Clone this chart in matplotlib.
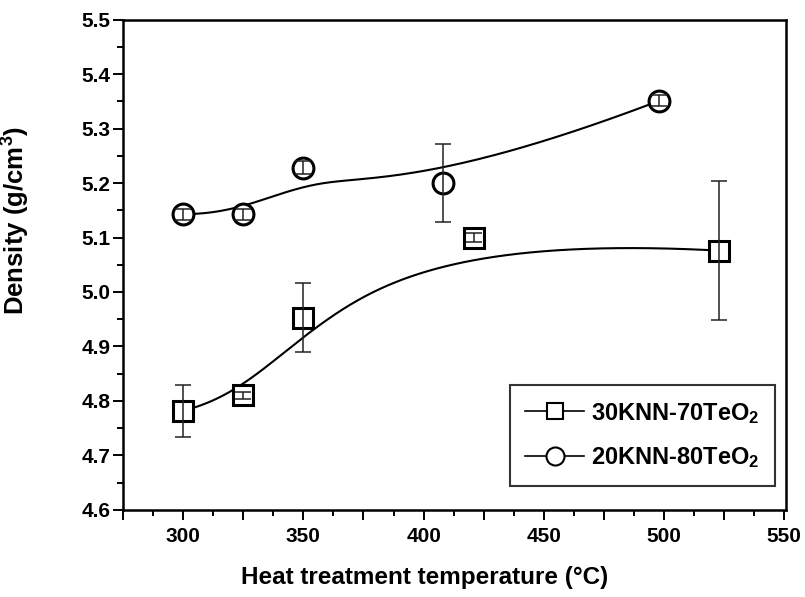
import numpy as np
import matplotlib
matplotlib.use("Agg")
import matplotlib.pyplot as plt
from matplotlib.ticker import MultipleLocator, FuncFormatter

plt.rcParams["font.family"] = ["Liberation Sans", "DejaVu Sans"]
plt.rcParams["font.weight"] = "bold"
plt.rcParams["axes.labelweight"] = "bold"
plt.rcParams["mathtext.fontset"] = "custom"
plt.rcParams["mathtext.rm"] = "Liberation Sans:bold"
plt.rcParams["mathtext.it"] = "Liberation Sans:bold"
plt.rcParams["mathtext.bf"] = "Liberation Sans:bold"
plt.rcParams["mathtext.default"] = "rm"

# 30KNN-70TeO2
temp_a = [300, 325, 350, 421, 523]
dens_a = [4.782, 4.810, 4.953, 5.100, 5.076]
err_a = [0.048, 0.006, 0.063, 0.008, 0.127]

# 20KNN-80TeO2
temp_b = [300, 325, 350, 408, 498]
dens_b = [5.143, 5.143, 5.228, 5.200, 5.351]
err_b = [0.010, 0.010, 0.012, 0.072, 0.010]

labels = ["30KNN-70TeO$_2$", "20KNN-80TeO$_2$"]


def bspline(px, py, n=300):
    # clamped cubic B-spline with the data points as control points
    k = 3
    m = len(px)
    knots = np.concatenate([np.zeros(k), np.linspace(0, 1, m - k + 1), np.ones(k)])
    t = np.linspace(0, 1, n)
    t[-1] = 1 - 1e-12
    basis = np.zeros((n, len(knots) - 1))
    for i in range(len(knots) - 1):
        basis[:, i] = (t >= knots[i]) & (t < knots[i + 1])
    for d in range(1, k + 1):
        new = np.zeros((n, len(knots) - 1 - d))
        for i in range(len(knots) - 1 - d):
            a = knots[i + d] - knots[i]
            b = knots[i + d + 1] - knots[i + 1]
            left = (t - knots[i]) / a * basis[:, i] if a > 0 else 0
            right = (knots[i + d + 1] - t) / b * basis[:, i + 1] if b > 0 else 0
            new[:, i] = left + right
        basis = new
    return basis @ np.asarray(px, float), basis @ np.asarray(py, float)


fig = plt.figure(figsize=(8.05, 5.97), dpi=100)
ax = fig.add_axes([0.153, 0.146, 0.824, 0.821])

for xs, ys, es, mk, ms, lab in [
    (temp_a, dens_a, err_a, "s", 14, labels[0]),
    (temp_b, dens_b, err_b, "o", 15, labels[1]),
]:
    cx, cy = bspline(xs, ys)
    ax.plot(cx, cy, color="black", lw=1.5, zorder=2)
    ax.plot(xs, ys, ls="none", marker=mk, ms=ms, mfc="white", mec="black",
            mew=2.2, zorder=3)
    ax.errorbar(xs, ys, yerr=es, fmt="none", ecolor="#222222", elinewidth=1.1,
                capsize=6, capthick=1.1, zorder=4)
    ax.plot([], [], color="black", lw=1.2, marker=mk, ms=ms - 2, mfc="white",
            mec="black", mew=1.5, label=lab)

ax.set_xlim(275, 551)
ax.set_ylim(4.6, 5.5)
ax.xaxis.set_major_locator(MultipleLocator(25))
ax.xaxis.set_minor_locator(MultipleLocator(12.5))
ax.xaxis.set_major_formatter(
    FuncFormatter(lambda v, p: "%d" % v if v % 50 == 0 and v > 275 else ""))
ax.yaxis.set_major_locator(MultipleLocator(0.1))
ax.yaxis.set_minor_locator(MultipleLocator(0.05))
ax.yaxis.set_major_formatter(FuncFormatter(lambda v, p: "%.1f" % v))

ax.tick_params(axis="both", which="both", direction="out", width=1.4,
               top=False, right=False, labelsize=15)
ax.tick_params(axis="x", which="major", length=7, pad=5)
ax.tick_params(axis="x", which="minor", length=4)
ax.tick_params(axis="y", which="major", length=7, pad=2)
ax.tick_params(axis="y", which="minor", length=4)
for lbl in ax.get_xticklabels() + ax.get_yticklabels():
    lbl.set_fontweight("bold")
for sp in ax.spines.values():
    sp.set_linewidth(1.8)

ax.set_xlabel("Heat treatment temperature (°C)", fontsize=17.5)
ax.set_ylabel("Density (g/cm$^3$)", fontsize=18.5)
ax.xaxis.set_label_coords(0.455, -0.115)
ax.yaxis.set_label_coords(-0.138, 0.59)

leg = ax.legend(loc="lower right", bbox_to_anchor=(0.983, 0.049),
                borderaxespad=0, fontsize=17, frameon=True, fancybox=False,
                handlelength=2.5, labelspacing=0.85, borderpad=0.65,
                handletextpad=0.3)
leg.get_frame().set_edgecolor("black")
leg.get_frame().set_linewidth(1.5)

fig.savefig("out.png", dpi=100)
